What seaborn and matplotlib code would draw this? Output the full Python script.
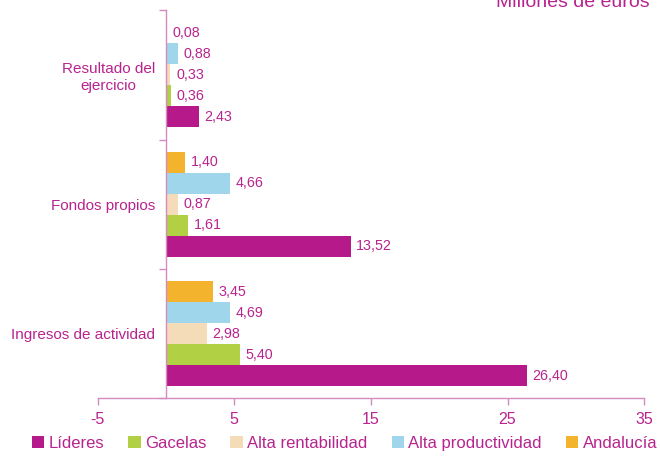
import matplotlib
matplotlib.use("Agg")
import matplotlib.pyplot as plt
import seaborn as sns
import pandas as pd
from matplotlib.patches import Patch

categories = ["Resultado del\nejercicio", "Fondos propios", "Ingresos de actividad"]
series = ["Líderes", "Gacelas", "Alta rentabilidad", "Alta productividad", "Andalucía"]
lideres = [2.43, 13.52, 26.40]
gacelas = [0.36, 1.61, 5.40]
alta_rentabilidad = [0.33, 0.87, 2.98]
alta_productividad = [0.88, 4.66, 4.69]
andalucia = [0.08, 1.40, 3.45]
x_ticks = [-5, 5, 15, 25, 35]

colors = {
    "Líderes": "#B5198A",
    "Gacelas": "#B1D044",
    "Alta rentabilidad": "#F5DCB8",
    "Alta productividad": "#A0D6EC",
    "Andalucía": "#F3B32C",
}
txt = "#B8238E"
spine = "#D58BC2"

values = [lideres, gacelas, alta_rentabilidad, alta_productividad, andalucia]
rows = []
for s, vals in zip(series, values):
    for c, v in zip(categories, vals):
        rows.append({"cat": c, "serie": s, "val": v})
df = pd.DataFrame(rows)

sns.set_theme(style="white")
plt.rcParams["font.family"] = ["Liberation Sans", "DejaVu Sans"]

fig, ax = plt.subplots(figsize=(6.6, 4.58), dpi=100)
fig.subplots_adjust(left=0.148, right=0.976, bottom=0.130, top=0.978)

draw_order = list(reversed(series))
sns.barplot(data=df, x="val", y="cat", hue="serie", order=categories,
            hue_order=draw_order, palette=colors, orient="h", width=0.81,
            saturation=1, ax=ax, legend=False, linewidth=0, edgecolor="none")

for cont in ax.containers:
    labels = [f"{r.get_width():.2f}".replace(".", ",") for r in cont]
    ax.bar_label(cont, labels=labels, padding=4, color=txt, fontsize=10.3)

ax.set_xlim(-5, 35)
ax.set_ylim(2.5, -0.5)
ax.set_xticks(x_ticks)
ax.set_xticklabels([str(t) for t in x_ticks])
ax.set_xlabel("")
ax.set_ylabel("")

ax.spines["left"].set_position(("data", 0))
for side in ["top", "right"]:
    ax.spines[side].set_visible(False)
for side in ["left", "bottom"]:
    ax.spines[side].set_color(spine)
    ax.spines[side].set_linewidth(1.0)

ax.tick_params(axis="x", colors=spine, labelcolor=txt, labelsize=11.5,
               length=5, width=1, direction="out", bottom=True, pad=5)
ax.tick_params(axis="y", which="major", length=0, labelcolor=txt,
               labelsize=11, pad=8)
ax.set_yticks([-0.5, 0.5, 1.5, 2.5], minor=True)
ax.tick_params(axis="y", which="minor", length=5, width=1, color=spine,
               direction="out", left=True)
for lab in ax.get_yticklabels():
    lab.set_multialignment("center")

handles = [Patch(facecolor=colors[s], edgecolor="none") for s in series]
leg = fig.legend(handles, series, loc="lower center", ncol=5,
                 bbox_to_anchor=(0.522, -0.01), frameon=False,
                 fontsize=12, handlelength=0.75, handleheight=0.75,
                 handletextpad=0.25, columnspacing=1.45, borderaxespad=0.3)
for t in leg.get_texts():
    t.set_color(txt)

fig.text(0.984, 1 - 7 / 458, "Millones de euros", ha="right", va="baseline",
         color=txt, fontsize=14)

fig.savefig("out.png", dpi=100)
